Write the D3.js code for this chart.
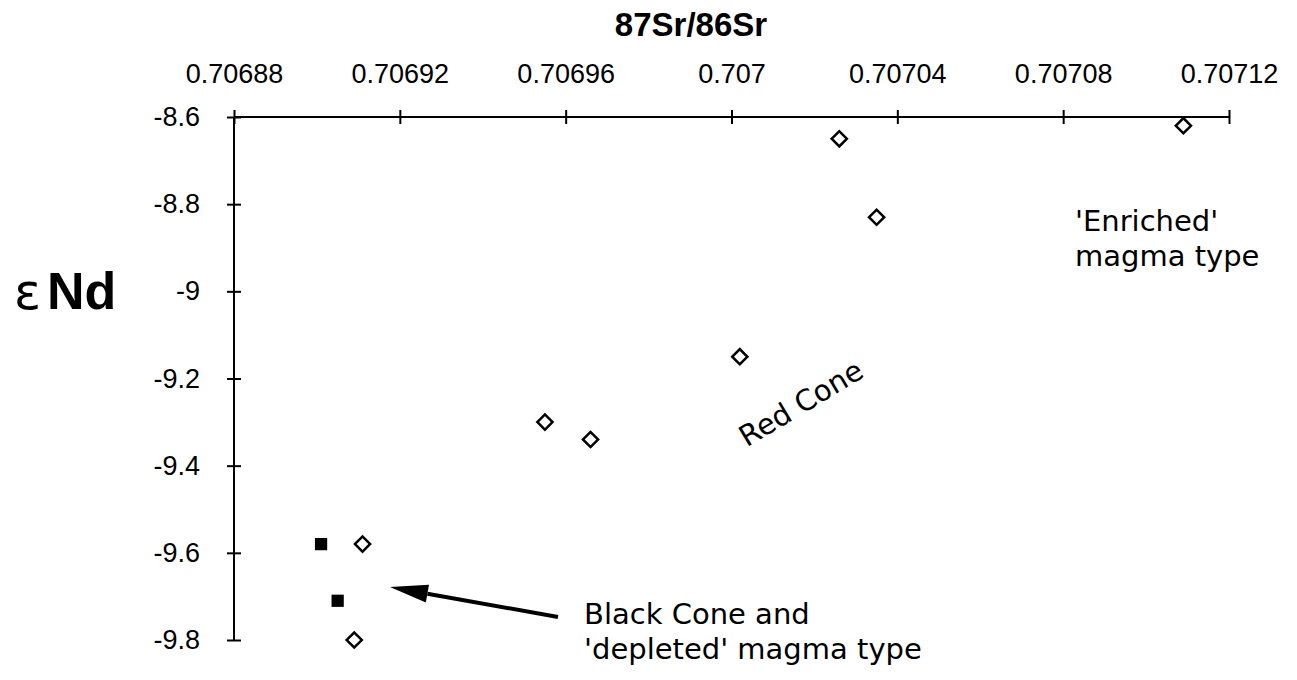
<!DOCTYPE html>
<html>
<head>
<meta charset="utf-8">
<script src="https://cdn.jsdelivr.net/npm/d3@7"></script>
<style>
  html, body { margin: 0; padding: 0; background: #fff; }
  svg { display: block; }
</style>
</head>
<body>
<svg id="chart" width="1297" height="680"></svg>
<script>
// ---- data ----
const xTicks = [0.70688, 0.70692, 0.70696, 0.707, 0.70704, 0.70708, 0.70712];
const xTickLabels = ["0.70688", "0.70692", "0.70696", "0.707", "0.70704", "0.70708", "0.70712"];
const yTicks = [-8.6, -8.8, -9, -9.2, -9.4, -9.6, -9.8];
const yTickLabels = ["-8.6", "-8.8", "-9", "-9.2", "-9.4", "-9.6", "-9.8"];

// Red Cone / 'enriched' and other open-diamond samples
const diamondSr = [0.707026, 0.707035, 0.707109, 0.707002, 0.706955, 0.706966, 0.706911, 0.706909];
const diamondNd = [-8.65, -8.83, -8.62, -9.15, -9.30, -9.34, -9.58, -9.80];
// Black Cone samples (filled squares)
const squareSr = [0.706901, 0.706905];
const squareNd = [-9.58, -9.71];

const xTitle = "87Sr/86Sr";
const enrichedLines = ["'Enriched'", "magma type"];
const blackLines = ["Black Cone and", "'depleted' magma type"];
const redLabel = "Red Cone";

// ---- drawing ----
const svg = d3.select("#chart");
const x = d3.scaleLinear().domain([0.70688, 0.70712]).range([234, 1229]);
const y = d3.scaleLinear().domain([-8.6, -9.8]).range([117, 640]);
const axisFont = "'Liberation Sans', Arial, sans-serif";
const annFont = "'DejaVu Sans', sans-serif";

// X axis (top)
const gx = svg.append("g").attr("transform", `translate(0,${y(-8.6)})`)
  .call(d3.axisTop(x).tickValues(xTicks).tickSize(7).tickPadding(27)
    .tickFormat((d, i) => xTickLabels[i]));
gx.select(".domain").attr("d", `M${x(0.70688)},0H${x(0.70712)}`).attr("stroke", "#000").attr("stroke-width", 2);
gx.selectAll(".tick line").attr("y1", 7).attr("y2", -7).attr("stroke", "#000").attr("stroke-width", 2);
gx.selectAll(".tick text").attr("font-family", axisFont).attr("font-size", 27).attr("fill", "#000");

// Y axis (left)
const gy = svg.append("g").attr("transform", `translate(${x(0.70688)},0)`)
  .call(d3.axisLeft(y).tickValues(yTicks).tickSize(7).tickPadding(27)
    .tickFormat((d, i) => yTickLabels[i]));
gy.select(".domain").attr("d", `M0,${y(-8.6)}V${y(-9.8)}`).attr("stroke", "#000").attr("stroke-width", 2);
gy.selectAll(".tick line").attr("x1", 7).attr("x2", -7).attr("stroke", "#000").attr("stroke-width", 2);
gy.selectAll(".tick text").attr("font-family", axisFont).attr("font-size", 27).attr("fill", "#000");

// X title
svg.append("text").attr("x", 691).attr("y", 36).attr("text-anchor", "middle")
  .attr("font-family", axisFont).attr("font-weight", "bold").attr("font-size", 33)
  .text(xTitle);

// Y title  εNd
const yt = svg.append("text").attr("x", 14).attr("y", 309)
  .attr("font-family", axisFont).attr("font-size", 52).attr("fill", "#000");
yt.append("tspan").attr("font-family", "'DejaVu Sans', sans-serif").attr("font-size", 50).text("ε");
yt.append("tspan").attr("dx", 6).attr("font-weight", "bold").text("Nd");

// Diamonds
const diamondData = diamondSr.map((v, i) => ({ sr: v, nd: diamondNd[i] }));
svg.append("g").selectAll("path").data(diamondData).join("path")
  .attr("transform", d => `translate(${x(d.sr)},${y(d.nd)}) rotate(45)`)
  .attr("d", d3.symbol(d3.symbolSquare, 115)())
  .attr("fill", "#fff").attr("stroke", "#000").attr("stroke-width", 2.5);

// Squares
const squareData = squareSr.map((v, i) => ({ sr: v, nd: squareNd[i] }));
svg.append("g").selectAll("path").data(squareData).join("path")
  .attr("transform", d => `translate(${x(d.sr)},${y(d.nd)})`)
  .attr("d", d3.symbol(d3.symbolSquare, 150)())
  .attr("fill", "#000");

// Annotations (multi-line texts as tspans)
const ann = svg.append("g").attr("font-family", annFont).attr("font-size", 29).attr("fill", "#000");
function multiline(px, py, lines, lh) {
  const t = ann.append("text").attr("x", px).attr("y", py);
  lines.forEach((s, i) => t.append("tspan").attr("x", px).attr("dy", i === 0 ? 0 : lh).text(s));
}
multiline(1075, 231, enrichedLines, 35);
multiline(584, 624, blackLines, 35);
ann.append("text").attr("transform", "translate(802,405) rotate(-31)").attr("text-anchor", "middle")
  .attr("dominant-baseline", "middle").text(redLabel);

// Arrow
const tail = [558, 617], tip = [390, 587];
const ang = Math.atan2(tip[1] - tail[1], tip[0] - tail[0]);
const headLen = 38, headW = 9;
const base = [tip[0] - headLen * Math.cos(ang), tip[1] - headLen * Math.sin(ang)];
svg.append("line").attr("x1", tail[0]).attr("y1", tail[1]).attr("x2", base[0]).attr("y2", base[1])
  .attr("stroke", "#000").attr("stroke-width", 4);
svg.append("path")
  .attr("d", `M${tip[0]},${tip[1]}L${base[0] - headW * Math.sin(ang)},${base[1] + headW * Math.cos(ang)}L${base[0] + headW * Math.sin(ang)},${base[1] - headW * Math.cos(ang)}Z`)
  .attr("fill", "#000");
</script>
</body>
</html>
